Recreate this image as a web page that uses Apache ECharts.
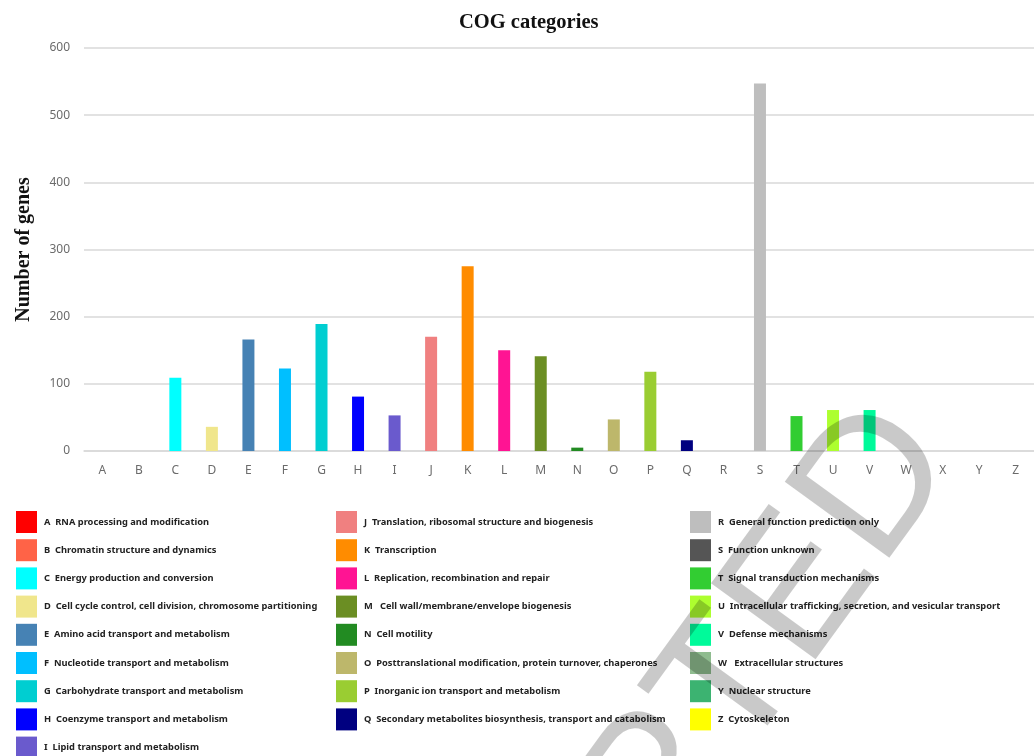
<!DOCTYPE html>
<html>
<head>
<meta charset="utf-8">
<script src="https://cdn.jsdelivr.net/npm/echarts@6/dist/echarts.min.js"></script>
<style>
  html, body { margin: 0; padding: 0; background: #fff; }
  #chart { width: 1034px; height: 756px; }
</style>
</head>
<body>
<div id="chart"></div>
<script>
// COG letters on the x axis
const categories = ['A','B','C','D','E','F','G','H','I','J','K','L','M','N','O','P','Q','R','S','T','U','V','W','X','Y','Z']
// number of genes per letter
const geneCounts = [0, 0, 109, 36, 166, 123, 189, 81, 53, 170, 275, 150, 141, 5, 47, 118, 16, 0, 547, 52, 61, 61, 0, 0, 0, 0]
// bar colour at each letter (the S bar is drawn in light grey in the source figure)
const barColors = ['#FF0000','#FF6347','#00FFFF','#F0E68C','#4682B4','#00BFFF','#00CED1','#0000FF','#6A5ACD','#F08080',
  '#FF8C00','#FF1493','#6B8E23','#228B22','#BDB76B','#9ACD32','#000080','#BEBEBE','#BEBEBE','#32CD32',
  '#ADFF2F','#00FA9A','#8FBC8F','#CCCCCC','#3CB371','#FFFF00']

// legend entries, three columns
const legendCol1 = [
  ['A  RNA processing and modification', '#FF0000'],
  ['B  Chromatin structure and dynamics', '#FF6347'],
  ['C  Energy production and conversion', '#00FFFF'],
  ['D  Cell cycle control, cell division, chromosome partitioning', '#F0E68C'],
  ['E  Amino acid transport and metabolism', '#4682B4'],
  ['F  Nucleotide transport and metabolism', '#00BFFF'],
  ['G  Carbohydrate transport and metabolism', '#00CED1'],
  ['H  Coenzyme transport and metabolism', '#0000FF'],
  ['I  Lipid transport and metabolism', '#6A5ACD']
]
const legendCol2 = [
  ['J  Translation, ribosomal structure and biogenesis', '#F08080'],
  ['K  Transcription', '#FF8C00'],
  ['L  Replication, recombination and repair', '#FF1493'],
  ['M   Cell wall/membrane/envelope biogenesis', '#6B8E23'],
  ['N  Cell motility', '#228B22'],
  ['O  Posttranslational modification, protein turnover, chaperones', '#BDB76B'],
  ['P  Inorganic ion transport and metabolism', '#9ACD32'],
  ['Q  Secondary metabolites biosynthesis, transport and catabolism', '#000080']
]
const legendCol3 = [
  ['R  General function prediction only', '#BEBEBE'],
  ['S  Function unknown', '#555555'],
  ['T  Signal transduction mechanisms', '#32CD32'],
  ['U  Intracellular trafficking, secretion, and vesicular transport', '#ADFF2F'],
  ['V  Defense mechanisms', '#00FA9A'],
  ['W   Extracellular structures', '#8FBC8F'],
  ['Y  Nuclear structure', '#3CB371'],
  ['Z  Cytoskeleton', '#FFFF00']
]
const yTicks = { min: 0, max: 600, interval: 100 }

const chart = echarts.init(document.getElementById('chart'))

const legendBase = (left, items) => ({
  orient: 'vertical',
  left: left,
  top: 511,
  height: 300,
  padding: 0,
  itemWidth: 21,
  itemHeight: 22,
  itemGap: 6.2,
  icon: 'rect',
  selectedMode: false,
  data: items.map(it => it[0]),
  textStyle: { fontFamily: 'Noto Sans', fontSize: 9.3, fontWeight: 'bold', color: '#222', padding: [0, 0, 0, 2] }
})

// legend-only series: line type so they don't take a bar slot
const legendSeries = [...legendCol1, ...legendCol2, ...legendCol3].map(it => ({
  name: it[0],
  type: 'line',
  data: [],
  itemStyle: { color: it[1] },
  lineStyle: { color: it[1] }
}))

const option = {
  backgroundColor: '#fff',
  animation: false,
  title: {
    text: 'COG categories',
    left: 454,
    top: 7,
    textStyle: { fontFamily: 'Liberation Serif', fontSize: 20.5, fontWeight: 'bold', color: '#111' }
  },
  grid: { left: 84, top: 48, width: 958, height: 403 },
  xAxis: {
    type: 'category',
    data: categories,
    axisLine: { lineStyle: { color: '#d9d9d9', width: 1.5 } },
    axisTick: { show: false },
    axisLabel: { color: '#6b6b6b', fontSize: 12, fontFamily: 'Noto Sans', margin: 14 }
  },
  yAxis: {
    type: 'value',
    min: yTicks.min,
    max: yTicks.max,
    interval: yTicks.interval,
    name: 'Number of genes',
    nameLocation: 'middle',
    nameGap: 50,
    nameTextStyle: { fontFamily: 'Liberation Serif', fontSize: 20, fontWeight: 'bold', color: '#111' },
    axisLine: { show: false },
    axisTick: { show: false },
    axisLabel: { color: '#6b6b6b', fontSize: 12, fontFamily: 'Noto Sans', margin: 14 },
    splitLine: { lineStyle: { color: '#d9d9d9', width: 1.5 } }
  },
  legend: [legendBase(16, legendCol1), legendBase(336, legendCol2), legendBase(690, legendCol3)],
  series: [
    {
      name: 'Number of genes',
      type: 'bar',
      barWidth: 12,
      data: geneCounts.map((v, i) => ({ value: v, itemStyle: { color: barColors[i] } }))
    },
    ...legendSeries
  ],
  // "ACCEPTED" stamp across the lower right
  graphic: [{
    type: 'text',
    z: 100,
    silent: true,
    x: 918,
    y: 430,
    rotation: 54 * Math.PI / 180,
    style: {
      text: 'ACCEPTED',
      fontFamily: 'Liberation Sans',
      fontSize: 188,
      fill: 'rgba(0,0,0,0.21)',
      textAlign: 'right',
      textVerticalAlign: 'middle'
    }
  }]
}

chart.setOption(option)
</script>
</body>
</html>
